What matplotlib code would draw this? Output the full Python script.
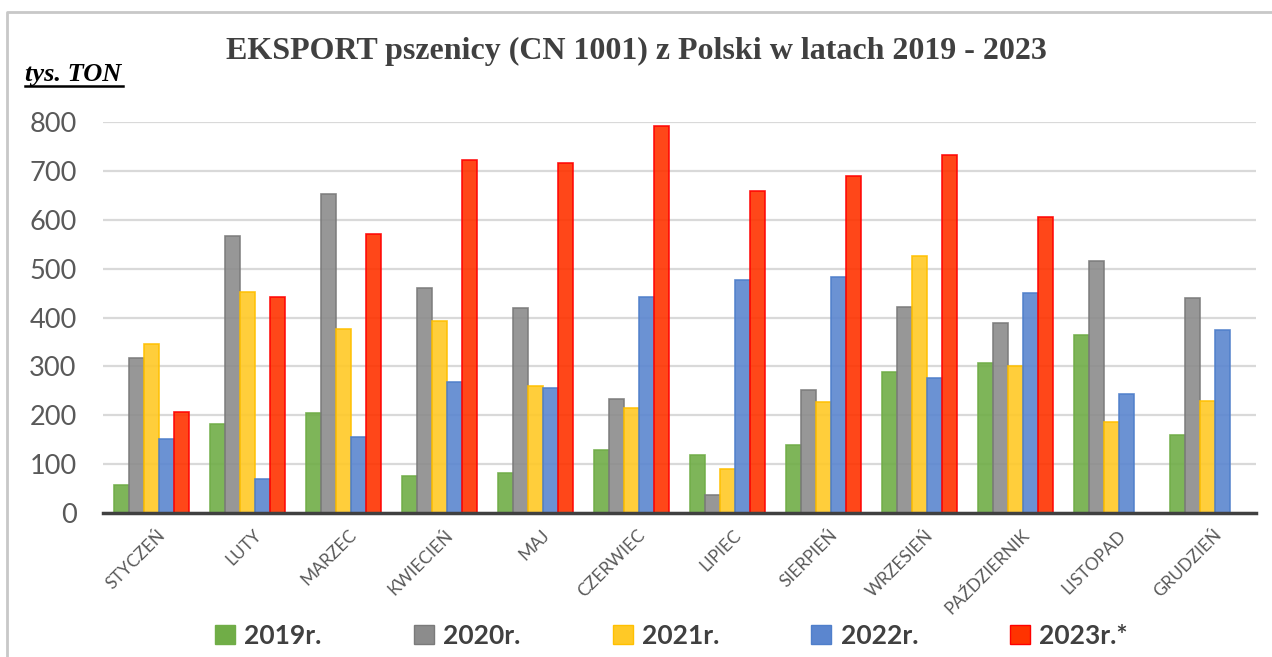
import matplotlib.pyplot as plt
from matplotlib.lines import Line2D
import numpy as np

months = ['STYCZEŃ', 'LUTY', 'MARZEC', 'KWIECIEŃ', 'MAJ', 'CZERWIEC',
          'LIPIEC', 'SIERPIEŃ', 'WRZESIEŃ', 'PAŹDZIERNIK', 'LISTOPAD', 'GRUDZIEŃ']
y2019 = [58, 183, 204, 76, 82, 129, 118, 139, 288, 307, 365, 160]
y2020 = [317, 566, 652, 461, 419, 233, 36, 252, 422, 388, 516, 440]
y2021 = [345, 453, 377, 393, 260, 215, 91, 228, 525, 301, 186, 230]
y2022 = [151, 69, 156, 269, 256, 442, 476, 482, 277, 450, 243, 374]
y2023 = [206, 442, 571, 723, 716, 792, 658, 689, 732, 605, np.nan, np.nan]
labels = ['2019r.', '2020r.', '2021r.', '2022r.', '2023r.*']
yticks = [0, 100, 200, 300, 400, 500, 600, 700, 800]

fills = ['#70AD47', '#8C8C8C', '#FFC926', '#5B86CF', '#FF3300']
edges = ['#70AD47', '#7A7A7A', '#FFC000', '#4F7FCB', '#FF0000']

fig = plt.figure(figsize=(12.72, 6.57), dpi=100)
ax = fig.add_axes([103/1272, 1 - 513/657, (1256 - 103)/1272, (513 - 122)/657])

x = np.arange(len(months))
w = 0.156
for i, vals in enumerate([y2019, y2020, y2021, y2022, y2023]):
    ax.bar(x + (i - 2) * w, vals, width=w, color=fills[i], edgecolor=edges[i],
           linewidth=1.2, alpha=0.9, zorder=2, label=labels[i])

ax.set_xlim(-0.5, len(months) - 0.5)
ax.set_ylim(0, 800)
ax.set_yticks(yticks)
ax.yaxis.grid(True, color='#D9D9D9', linewidth=1.6, zorder=0)
ax.set_axisbelow(True)
for s in ['top', 'right', 'left']:
    ax.spines[s].set_visible(False)
ax.spines['bottom'].set_color('#404040')
ax.spines['bottom'].set_linewidth(2.5)
ax.spines['bottom'].set_zorder(3)
ax.tick_params(axis='both', length=0)
ax.tick_params(axis='y', labelsize=19.5, labelcolor='#595959', pad=19)
ax.set_yticklabels([str(v) for v in yticks], family='Lato')
ax.set_xticks(x + 0.06)
ax.set_xticklabels(months, rotation=45, ha='right', rotation_mode='anchor',
                   fontsize=12.5, color='#595959', family='Lato')
ax.tick_params(axis='x', pad=10)

fig.text(0.5, 1 - 51/657, 'EKSPORT pszenicy (CN 1001) z Polski w latach 2019 - 2023',
         ha='center', va='center', fontsize=23, fontweight='bold',
         family='Liberation Serif', color='#404040')
fig.text(25/1272, 1 - 74/657, 'tys. TON', ha='left', va='center', fontsize=19,
         fontweight='bold', fontstyle='italic', family='Liberation Serif',
         color='#000000')
fig.add_artist(Line2D([25/1272, 123/1272], [1 - 86/657, 1 - 86/657],
                      color='black', linewidth=1.8))

# chart area border (top and left only visible)
fig.add_artist(Line2D([7/1272, 7/1272, 1.0], [0, 1 - 12/657, 1 - 12/657],
                      color='#C8C8C8', linewidth=2))

handles = [plt.Rectangle((0, 0), 1, 1, facecolor=fills[i], edgecolor=edges[i])
           for i in range(5)]
fig.legend(handles, labels, loc='center', bbox_to_anchor=(0.528, 1 - 636/657),
           ncol=5, frameon=False, handlelength=0.75, handleheight=0.75,
           handletextpad=0.35, columnspacing=3.5,
           prop={'family': 'Lato', 'weight': 'bold', 'size': 19},
           labelcolor='#404040')

fig.savefig('out.png', dpi=100)
